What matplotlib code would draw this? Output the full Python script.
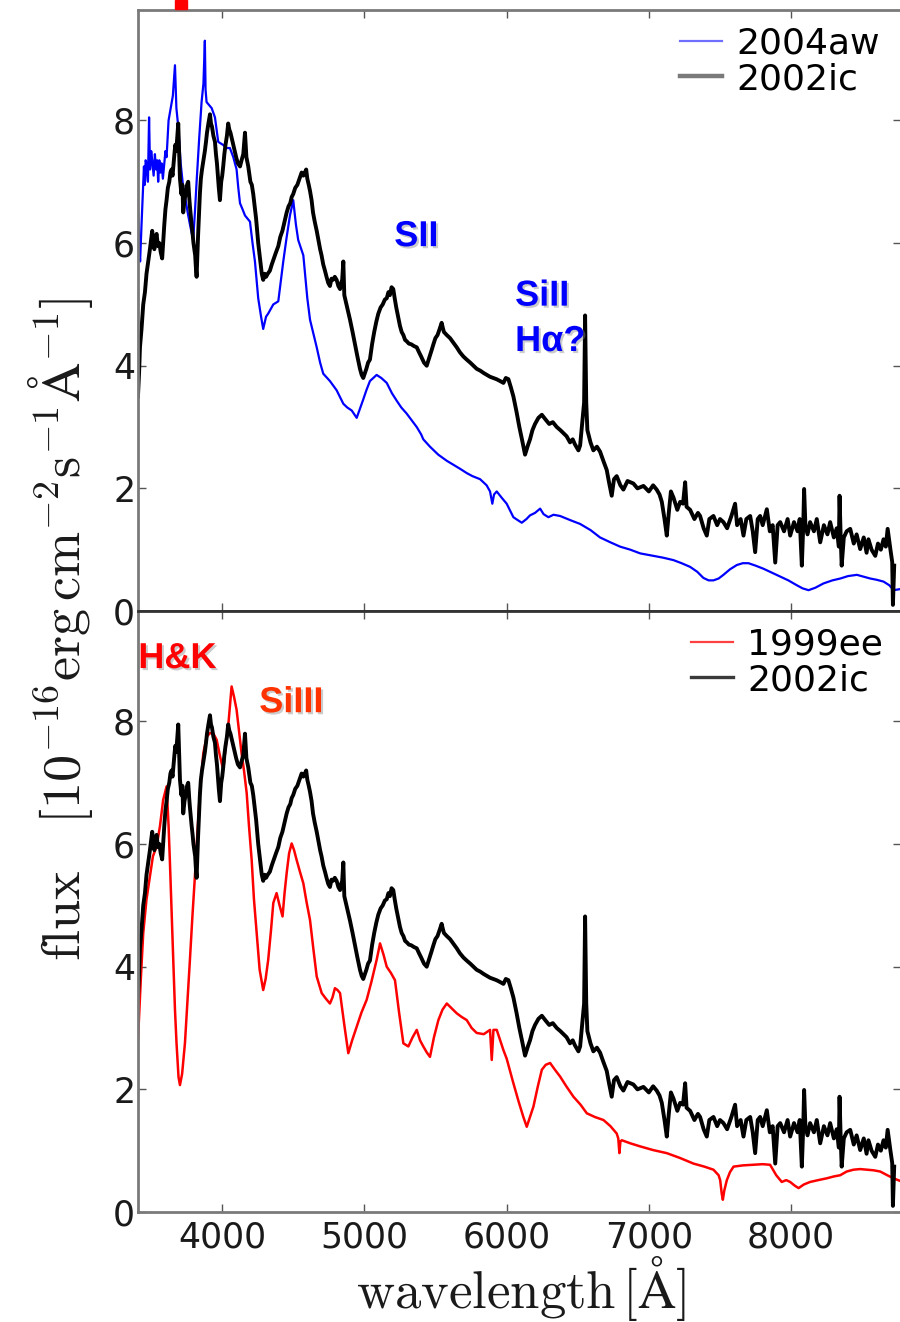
import matplotlib
matplotlib.use("Agg")
import matplotlib.pyplot as plt
import matplotlib.patheffects as pe
from matplotlib.lines import Line2D
from matplotlib.patches import Rectangle

plt.rcParams['mathtext.fontset'] = 'cm'

# SN 2002ic spectrum (wavelength in Angstrom, flux in 1e-16 erg/cm^2/s/A)
wl_02ic = [3410, 3418, 3424, 3435, 3447, 3459, 3470, 3482, 3494, 3502, 3510, 3518, 3525, 3533, 3541,
           3550, 3560, 3570, 3580, 3588, 3595, 3603, 3611, 3620, 3630, 3638, 3646, 3653, 3660, 3666,
           3672, 3679, 3685, 3693, 3700, 3705, 3715, 3722, 3728, 3737, 3745, 3755, 3763, 3770, 3775,
           3787, 3794, 3800, 3812, 3817, 3822, 3832, 3845, 3852, 3860, 3870, 3880, 3888, 3895, 3905,
           3916, 3923, 3930, 3940, 3951, 3958, 3965, 3978, 3986, 3995, 4002, 4009, 4017, 4025, 4035,
           4044, 4052, 4060, 4070, 4080, 4090, 4100, 4112, 4127, 4138, 4150, 4162, 4172, 4185, 4200,
           4210, 4220, 4230, 4240, 4255, 4270, 4280, 4290, 4300, 4310, 4322, 4337, 4350, 4365, 4380,
           4396, 4410, 4425, 4440, 4455, 4468, 4480, 4490, 4501, 4515, 4530, 4545, 4560, 4572, 4583,
           4592, 4600, 4610, 4619, 4630, 4640, 4652, 4666, 4678, 4690, 4700, 4712, 4724, 4735, 4747,
           4759, 4770, 4780, 4793, 4806, 4818, 4830, 4838, 4845, 4853, 4860, 4870, 4880, 4890, 4900,
           4918, 4935, 4952, 4970, 4982, 4993, 5005, 5015, 5027, 5040, 5055, 5070, 5085, 5099, 5115,
           5130, 5145, 5158, 5170, 5180, 5192, 5204, 5214, 5225, 5238, 5251, 5263, 5275, 5287, 5298,
           5314, 5330, 5350, 5369, 5385, 5400, 5420, 5439, 5450, 5460, 5473, 5486, 5500, 5515, 5530,
           5544, 5552, 5560, 5580, 5603, 5625, 5650, 5672, 5697, 5720, 5745, 5768, 5790, 5815, 5840,
           5862, 5884, 5906, 5930, 5955, 5978, 5995, 6013, 6030, 6048, 6070, 6090, 6110, 6130, 6150,
           6165, 6182, 6200, 6224, 6248, 6275, 6300, 6325, 6353, 6378, 6400, 6422, 6446, 6465, 6480,
           6505, 6517, 6529, 6545, 6552, 6560, 6568, 6590, 6610, 6635, 6657, 6680, 6704, 6720, 6739,
           6755, 6774, 6800, 6821, 6850, 6891, 6920, 6962, 7000, 7030, 7055, 7075, 7091, 7110, 7126,
           7140, 7155, 7173, 7200, 7220, 7240, 7255, 7265, 7290, 7320, 7345, 7360, 7385, 7407, 7425,
           7454, 7480, 7500, 7524, 7550, 7580, 7606, 7620, 7645, 7665, 7685, 7712, 7730, 7747, 7765,
           7782, 7800, 7829, 7850, 7870, 7888, 7905, 7923, 7950, 7975, 7993, 8020, 8045, 8060, 8075,
           8085, 8091, 8100, 8115, 8133, 8160, 8180, 8204, 8230, 8255, 8274, 8300, 8320, 8335, 8340,
           8348, 8355, 8370, 8390, 8415, 8440, 8460, 8485, 8510, 8530, 8543, 8565, 8591, 8610, 8630,
           8649, 8665, 8678, 8697, 8710, 8715, 8724]
fl_02ic = [3.5, 3.9, 4.3, 4.6, 5.0, 5.2, 5.5, 5.7, 5.9, 6.05, 6.2, 6.0, 5.9, 6.1, 6.15,
           5.95, 6.0, 5.85, 5.75, 6.05, 6.3, 6.55, 6.7, 6.9, 7.0, 7.15, 7.2, 7.1, 7.3, 7.45,
           7.6, 7.5, 7.7, 7.95, 7.4, 7.05, 6.8, 6.95, 6.5, 6.7, 6.8, 6.95, 7.0, 6.75, 6.6,
           6.3, 6.15, 6.0, 5.8, 5.6, 5.45, 6.1, 6.8, 7.05, 7.2, 7.35, 7.5, 7.65, 7.8, 7.95,
           8.1, 7.95, 7.9, 7.75, 7.65, 7.45, 7.3, 6.9, 6.7, 7.0, 7.1, 7.25, 7.45, 7.6, 7.75,
           7.95, 7.85, 7.8, 7.7, 7.6, 7.5, 7.4, 7.3, 7.25, 7.35, 7.45, 7.8, 7.4, 7.25, 7.0,
           6.95, 6.8, 6.6, 6.4, 6.0, 5.7, 5.5, 5.4, 5.5, 5.45, 5.5, 5.55, 5.65, 5.75, 5.85,
           5.95, 6.1, 6.2, 6.35, 6.5, 6.6, 6.65, 6.75, 6.8, 6.9, 6.95, 7.05, 7.15, 7.1, 7.15,
           7.2, 7.05, 6.95, 6.85, 6.7, 6.5, 6.35, 6.2, 6.05, 5.9, 5.8, 5.65, 5.55, 5.45, 5.35,
           5.3, 5.42, 5.4, 5.45, 5.4, 5.3, 5.25, 5.35, 5.4, 5.7, 5.15, 5.05, 4.95, 4.85, 4.75,
           4.55, 4.35, 4.15, 3.95, 3.85, 3.8, 3.88, 3.95, 4.05, 4.1, 4.35, 4.55, 4.72, 4.85, 4.95,
           5.0, 5.08, 5.1, 5.2, 5.15, 5.28, 5.25, 5.1, 4.95, 4.8, 4.65, 4.55, 4.5, 4.42, 4.4,
           4.36, 4.35, 4.32, 4.3, 4.22, 4.15, 4.05, 4.0, 4.08, 4.15, 4.25, 4.35, 4.45, 4.5, 4.6,
           4.7, 4.62, 4.55, 4.5, 4.45, 4.38, 4.3, 4.22, 4.15, 4.1, 4.05, 4.0, 3.95, 3.92, 3.88,
           3.85, 3.82, 3.8, 3.78, 3.75, 3.72, 3.8, 3.78, 3.65, 3.5, 3.25, 3.0, 2.78, 2.55, 2.7,
           2.8, 2.95, 3.05, 3.15, 3.2, 3.12, 3.05, 3.08, 3.0, 2.95, 2.9, 2.85, 2.75, 2.8, 2.72,
           2.62, 2.7, 3.0, 3.4, 4.82, 3.4, 2.95, 2.75, 2.62, 2.68, 2.6, 2.45, 2.3, 2.1, 1.88,
           2.15, 2.2, 2.05, 1.98, 2.12, 2.08, 2.0, 2.04, 1.95, 2.05, 1.98, 1.9, 1.78, 1.5, 1.23,
           1.6, 1.95, 1.85, 1.65, 1.78, 1.75, 2.1, 1.7, 1.65, 1.5, 1.6, 1.55, 1.35, 1.23, 1.5,
           1.55, 1.4, 1.5, 1.45, 1.35, 1.55, 1.75, 1.4, 1.5, 1.23, 1.5, 1.55, 1.3, 0.96, 1.5,
           1.55, 1.4, 1.66, 1.3, 1.4, 0.79, 1.4, 1.45, 1.3, 1.5, 1.23, 1.45, 1.3, 1.5, 0.74,
           1.4, 1.99, 1.4, 1.25, 1.45, 1.3, 1.5, 1.12, 1.4, 1.25, 1.45, 1.2, 1.35, 1.05, 1.88,
           1.2, 0.74, 1.2, 1.3, 1.34, 1.1, 1.25, 1.01, 1.2, 0.95, 1.17, 1.0, 0.9, 1.1, 1.0,
           1.17, 1.05, 1.34, 1.01, 0.8, 0.1, 0.74]

# SN 2004aw spectrum
wl_04aw = [3410, 3418, 3425, 3435, 3445, 3452, 3458, 3464, 3470, 3480, 3488, 3495, 3503, 3510, 3520,
           3529, 3537, 3545, 3552, 3560, 3568, 3576, 3585, 3595, 3603, 3611, 3625, 3640, 3655, 3670,
           3680, 3693, 3710, 3728, 3745, 3763, 3780, 3798, 3810, 3822, 3840, 3857, 3870, 3880, 3885,
           3892, 3910, 3928, 3951, 3974, 4009, 4030, 4056, 4080, 4103, 4115, 4127, 4145, 4162, 4197,
           4215, 4232, 4255, 4275, 4290, 4310, 4325, 4361, 4396, 4431, 4455, 4478, 4501, 4520, 4536,
           4572, 4600, 4619, 4645, 4666, 4690, 4712, 4759, 4806, 4853, 4880, 4912, 4947, 4970, 4993,
           5015, 5040, 5087, 5120, 5158, 5195, 5228, 5260, 5298, 5330, 5369, 5400, 5415, 5462, 5520,
           5580, 5630, 5673, 5720, 5760, 5814, 5860, 5884, 5900, 5912, 5931, 5965, 6001, 6048, 6080,
           6107, 6140, 6165, 6200, 6236, 6260, 6294, 6330, 6376, 6450, 6517, 6590, 6657, 6730, 6798,
           6870, 6939, 7032, 7100, 7173, 7230, 7290, 7340, 7383, 7420, 7454, 7490, 7524, 7570, 7618,
           7660, 7700, 7750, 7805, 7860, 7923, 7980, 8040, 8080, 8122, 8170, 8227, 8290, 8345, 8400,
           8462, 8510, 8556, 8600, 8649, 8690, 8719, 8773]
fl_04aw = [6.6, 6.0, 5.7, 6.3, 6.85, 7.25, 6.95, 7.35, 7.3, 7.0, 8.05, 7.2, 7.5, 7.35, 7.1,
           7.45, 7.2, 7.35, 7.0, 7.35, 7.15, 7.3, 7.05, 7.3, 7.5, 7.4, 8.0, 8.2, 8.4, 8.9,
           8.2, 7.9, 7.3, 6.9, 6.7, 6.45, 6.25, 6.05, 6.5, 7.0, 7.7, 8.3, 8.6, 9.3, 8.5,
           8.3, 8.25, 8.2, 8.05, 7.65, 7.6, 7.55, 7.55, 7.4, 7.2, 6.9, 6.65, 6.55, 6.45, 6.35,
           6.0, 5.7, 5.1, 4.8, 4.6, 4.8, 4.85, 5.0, 5.05, 5.7, 6.1, 6.45, 6.7, 6.3, 6.05,
           5.8, 5.1, 4.75, 4.5, 4.3, 4.05, 3.87, 3.75, 3.6, 3.38, 3.32, 3.27, 3.15, 3.3, 3.45,
           3.6, 3.75, 3.85, 3.8, 3.72, 3.55, 3.43, 3.32, 3.22, 3.12, 3.0, 2.88, 2.8, 2.68, 2.55,
           2.45, 2.38, 2.32, 2.25, 2.2, 2.15, 2.05, 1.95, 1.75, 1.9, 1.95, 1.85, 1.75, 1.53, 1.48,
           1.44, 1.5, 1.56, 1.6, 1.67, 1.58, 1.53, 1.57, 1.55, 1.48, 1.42, 1.32, 1.2, 1.12, 1.05,
           1.0, 0.94, 0.9, 0.87, 0.83, 0.78, 0.72, 0.64, 0.54, 0.5, 0.5, 0.53, 0.59, 0.68, 0.75,
           0.78, 0.78, 0.74, 0.69, 0.63, 0.56, 0.5, 0.42, 0.37, 0.34, 0.38, 0.45, 0.5, 0.53, 0.57,
           0.59, 0.56, 0.53, 0.51, 0.48, 0.42, 0.34, 0.36]

# SN 1999ee spectrum
wl_99ee = [3410, 3430, 3447, 3470, 3494, 3515, 3541, 3565, 3587, 3611, 3625, 3634, 3646, 3658, 3670,
           3681, 3695, 3705, 3720, 3740, 3757, 3775, 3792, 3810, 3828, 3845, 3869, 3893, 3916, 3940,
           3963, 3985, 4009, 4025, 4044, 4058, 4068, 4085, 4103, 4120, 4138, 4155, 4174, 4190, 4209,
           4225, 4244, 4265, 4290, 4307, 4325, 4345, 4361, 4384, 4405, 4426, 4440, 4455, 4472, 4490,
           4507, 4525, 4548, 4572, 4595, 4619, 4642, 4666, 4684, 4701, 4730, 4759, 4777, 4794, 4812,
           4830, 4860, 4888, 4915, 4947, 4980, 5017, 5050, 5087, 5111, 5135, 5158, 5187, 5216, 5245,
           5275, 5310, 5340, 5369, 5392, 5415, 5440, 5462, 5490, 5521, 5550, 5580, 5615, 5650, 5685,
           5720, 5755, 5790, 5840, 5884, 5896, 5908, 5931, 5955, 5978, 6001, 6048, 6085, 6118, 6142,
           6165, 6189, 6220, 6248, 6275, 6306, 6340, 6376, 6420, 6470, 6520, 6564, 6620, 6681, 6730,
           6774, 6785, 6793, 6800, 6810, 6870, 6939, 7030, 7126, 7220, 7313, 7390, 7454, 7490, 7501,
           7512, 7520, 7530, 7548, 7570, 7595, 7660, 7735, 7800, 7852, 7895, 7934, 7965, 7993, 8025,
           8052, 8090, 8133, 8190, 8251, 8300, 8345, 8390, 8438, 8485, 8532, 8580, 8626, 8675, 8719,
           8773]
fl_99ee = [2.8, 3.8, 4.55, 5.1, 5.47, 5.8, 5.96, 6.3, 6.72, 6.94, 6.3, 5.74, 4.9, 4.11, 3.3,
           2.75, 2.2, 2.07, 2.25, 2.75, 3.4, 4.11, 4.8, 5.47, 6.2, 6.83, 7.48, 7.75, 7.81, 7.8,
           7.7, 7.45, 7.21, 7.55, 7.92, 8.3, 8.57, 8.4, 8.19, 7.85, 7.48, 7.2, 6.83, 6.3, 5.74,
           5.1, 4.55, 3.95, 3.62, 3.8, 4.11, 4.6, 5.04, 5.2, 5.0, 4.82, 5.2, 5.53, 5.85, 6.01,
           5.9, 5.74, 5.55, 5.36, 5.05, 4.76, 4.3, 3.84, 3.7, 3.57, 3.48, 3.4, 3.5, 3.65, 3.62,
           3.57, 3.05, 2.59, 2.8, 3.02, 3.25, 3.46, 3.75, 4.11, 4.38, 4.2, 4.0, 3.9, 3.78, 3.25,
           2.75, 2.7, 2.85, 2.97, 2.8, 2.7, 2.6, 2.53, 2.85, 3.13, 3.3, 3.4, 3.32, 3.24, 3.18,
           3.13, 3.0, 2.92, 2.9, 2.97, 2.48, 2.97, 2.97, 2.8, 2.64, 2.5, 2.1, 1.8, 1.55, 1.39,
           1.55, 1.72, 2.05, 2.32, 2.4, 2.43, 2.32, 2.21, 2.05, 1.88, 1.75, 1.61, 1.55, 1.5, 1.4,
           1.28, 1.2, 0.96, 1.15, 1.17, 1.12, 1.07, 1.01, 0.96, 0.88, 0.79, 0.74, 0.69, 0.6, 0.52,
           0.3, 0.2, 0.35, 0.52, 0.65, 0.74, 0.76, 0.77, 0.78, 0.77, 0.6, 0.49, 0.52, 0.49, 0.43,
           0.39, 0.45, 0.49, 0.52, 0.55, 0.58, 0.6, 0.66, 0.69, 0.7, 0.69, 0.68, 0.66, 0.6, 0.55,
           0.5]

xticks = [4000, 5000, 6000, 7000, 8000]
yticks = [0, 2, 4, 6, 8]

SPINE = '#7a7a7a'

fig = plt.figure(figsize=(9, 13.22), dpi=100)
ax1 = fig.add_axes([0.1533, 0.5378, 0.848, 0.4546])
ax2 = fig.add_axes([0.1533, 0.0832, 0.848, 0.4546], sharex=ax1)

ax1.plot(wl_04aw, fl_04aw, color='#0000ff', lw=1.6)
ax1.plot(wl_02ic, fl_02ic, color='black', lw=2.8)
ax2.plot(wl_99ee, fl_99ee, color='#ff0000', lw=1.8)
ax2.plot(wl_02ic, fl_02ic, color='black', lw=2.8)

for ax in (ax1, ax2):
    ax.set_xlim(3410, 8773)
    ax.set_ylim(0, 9.8)
    ax.set_xticks(xticks)
    ax.set_yticks(yticks)
    ax.tick_params(direction='in', top=True, right=True, length=6, width=1,
                   color='#555555', labelsize=25, labelcolor='#1a1a1a')
    ax.tick_params(axis='y', pad=2)
    ax.tick_params(axis='x', pad=6)
    for sp in ax.spines.values():
        sp.set_color(SPINE)
        sp.set_linewidth(2)
ax1.tick_params(axis='x', labelbottom=False)
ax1.spines['bottom'].set_color('#333333')
ax2.spines['top'].set_color('#333333')

leg_kw = dict(loc='upper right', frameon=False, fontsize=26, handlelength=1.15,
              handletextpad=0.4, labelspacing=0.05, borderpad=0, borderaxespad=0)
ax1.legend([Line2D([], [], color='#6f6fff', lw=1.6), Line2D([], [], color='#7a7a7a', lw=3.2)],
           ['2004aw', '2002ic'], bbox_to_anchor=(0.972, 0.973), **leg_kw)
ax2.legend([Line2D([], [], color='#ff4040', lw=1.6), Line2D([], [], color='#3a3a3a', lw=2.4)],
           ['1999ee', '2002ic'], bbox_to_anchor=(0.976, 0.973), **leg_kw)

shadow = [pe.SimplePatchShadow(offset=(1.5, -1.5), shadow_rgbFace='0.55', alpha=0.45), pe.Normal()]
note = dict(fontsize=26, fontweight='bold', family='Liberation Sans', va='baseline',
            path_effects=shadow)
ax1.text(5211, 5.95, 'SII', color='#0000ff', **note)
ax1.text(6060, 4.98, 'SiII', color='#0000ff', **note)
ax1.text(6060, 4.24, 'Hα?', color='#0000ff', **note)
ax2.text(3412, 8.87, 'H&K', color='#ff0000', **note)
ax2.text(4262, 8.15, 'SiIII', color='#ff3300', **note)

fig.text(0.579, 0.0255, r'$\mathrm{wavelength}\,[\mathrm{\AA}]$', fontsize=38,
         ha='center', va='center', color='#1a1a1a')
fig.text(0.067, 0.524,
         r'$\mathrm{flux}\quad[10^{-16}\mathrm{erg}\,\mathrm{cm}^{-2}\mathrm{s}^{-1}\mathrm{\AA}^{-1}]$',
         fontsize=39, rotation=90, ha='center', va='center', color='#1a1a1a')

# small red block sitting on the upper frame
fig.add_artist(Rectangle((175 / 900, 1 - 9 / 1322), 12 / 900, 9 / 1322,
                         transform=fig.transFigure, color='#ff0000', clip_on=False))

fig.savefig('out.png', dpi=100)
